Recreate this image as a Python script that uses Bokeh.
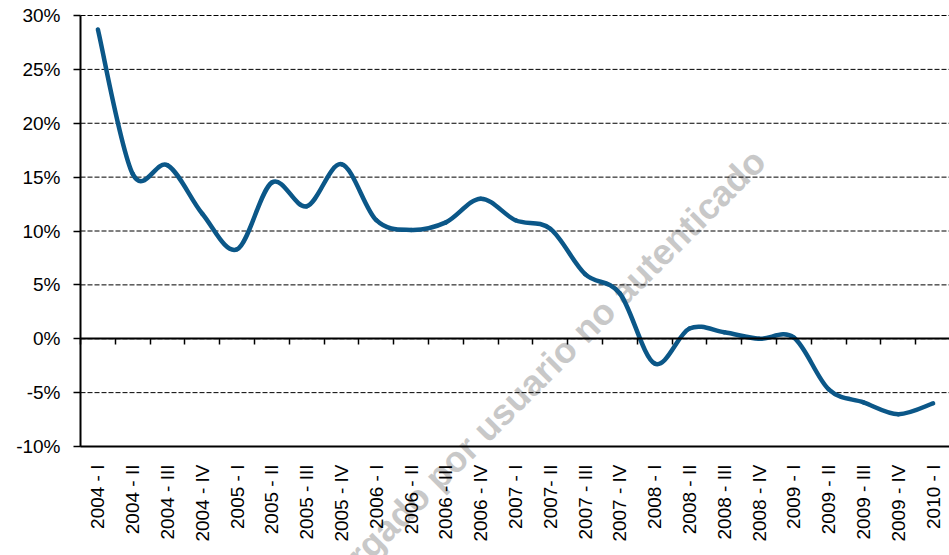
import math
from bokeh.plotting import figure
from bokeh.models import (Range1d, LinearAxis, FixedTicker, PrintfTickFormatter,
                          CustomJSTickFormatter, Label, ColumnDataSource)
from bokeh.embed import file_html
from bokeh.resources import INLINE

# ---- data ----
quarters = ["2004 - I", "2004 - II", "2004 - III", "2004 - IV",
            "2005 - I", "2005 - II", "2005 - III", "2005 - IV",
            "2006 - I", "2006 - II", "2006 - III", "2006 - IV",
            "2007 - I", "2007- II", "2007 - III", "2007 - IV",
            "2008 - I", "2008 - II", "2008 - III", "2008 - IV",
            "2009 - I", "2009 - II", "2009 - III", "2009 - IV",
            "2010 - I"]
growth_pct = [28.7, 15.3, 16.1, 11.6,
              8.3, 14.5, 12.3, 16.2,
              11.0, 10.1, 10.8, 13.0,
              11.0, 10.2, 6.0, 4.2,
              -2.3, 0.95, 0.6, 0.0,
              0.1, -4.7, -5.9, -7.0,
              -6.0]
y_ticks = [-10, -5, 0, 5, 10, 15, 20, 25, 30]
watermark = "Descargado por usuario no autenticado"

n = len(quarters)
xs = [i + 0.5 for i in range(n)]
y_min, y_max = y_ticks[0], y_ticks[-1]

# ---- layout (pixels) ----
W, H = 949, 555
LEFT, TOP = 80, 15          # plot-area corner
CAT_PX = 34.8               # pixels per category
PCT_PX = 10.775             # pixels per percentage point

x_range = Range1d(-LEFT / CAT_PX, (W - LEFT) / CAT_PX)
y_range = Range1d(y_max - (H - TOP) / PCT_PX, y_max + TOP / PCT_PX)

# smoothed line (Catmull-Rom -> cubic Bezier, like a spreadsheet "smoothed line")
x0, y0, x1, y1, cx0, cy0, cx1, cy1 = [], [], [], [], [], [], [], []
for i in range(n - 1):
    ip = max(i - 1, 0)
    inn = min(i + 2, n - 1)
    x0.append(xs[i]); y0.append(growth_pct[i])
    x1.append(xs[i + 1]); y1.append(growth_pct[i + 1])
    cx0.append(xs[i] + (xs[i + 1] - xs[ip]) / 6.0)
    cy0.append(growth_pct[i] + (growth_pct[i + 1] - growth_pct[ip]) / 6.0)
    cx1.append(xs[i + 1] - (xs[inn] - xs[i]) / 6.0)
    cy1.append(growth_pct[i + 1] - (growth_pct[inn] - growth_pct[i]) / 6.0)
src = ColumnDataSource(dict(x0=x0, y0=y0, x1=x1, y1=y1,
                            cx0=cx0, cy0=cy0, cx1=cx1, cy1=cy1))

FONT = "Liberation Sans"

p = figure(width=W, height=H, output_backend="svg", toolbar_location=None,
           x_range=x_range, y_range=y_range,
           x_axis_location=None, y_axis_location=None,
           min_border_left=0, min_border_right=0, min_border_top=0,
           min_border_bottom=0)
p.outline_line_color = None
p.background_fill_color = "white"
p.border_fill_color = "white"
p.center = [r for r in p.center if r.__class__.__name__ != "Grid"]

# watermark (behind everything)
wm = Label(x=12.59, y=-5.27, text=watermark, angle=45, angle_units="deg",
           text_align="center", text_baseline="middle", text_font=FONT,
           text_font_style="bold", text_font_size="36px", text_color="#c8c8c8",
           level="underlay")
p.add_layout(wm)

# dashed horizontal gridlines across the category span
p.segment(x0=[0] * len(y_ticks), x1=[n] * len(y_ticks), y0=y_ticks, y1=y_ticks,
          line_color="black", line_width=1, line_dash="5 2")

yticker = FixedTicker(ticks=y_ticks, minor_ticks=[])
yaxis = LinearAxis(fixed_location=0, bounds=(y_min, y_max),
                   ticker=yticker, formatter=PrintfTickFormatter(format="%d%%"),
                   major_tick_in=0, major_tick_out=7, minor_tick_out=0,
                   axis_line_width=2, axis_line_color="black",
                   major_tick_line_color="black", major_tick_line_width=1.5,
                   major_label_standoff=13,
                   major_label_text_font=FONT, major_label_text_font_size="19px",
                   major_label_text_color="black")
p.add_layout(yaxis, "left")

xaxis = LinearAxis(fixed_location=y_min, bounds=(0, n),
                   ticker=FixedTicker(ticks=xs, minor_ticks=[]),
                   formatter=CustomJSTickFormatter(args=dict(labels=quarters),
                                                   code="return labels[Math.floor(tick)] || '';"),
                   major_tick_in=0, major_tick_out=0, minor_tick_out=0,
                   axis_line_width=2, axis_line_color="black",
                   major_label_orientation=math.pi / 2,
                   major_label_standoff=18,
                   major_label_text_font=FONT, major_label_text_font_size="19px",
                   major_label_text_color="black")
p.add_layout(xaxis, "below")

zero_axis = LinearAxis(fixed_location=0, bounds=(0, n),
                       ticker=FixedTicker(ticks=list(range(n + 1)), minor_ticks=[]),
                       formatter=CustomJSTickFormatter(code="return '';"),
                       major_tick_in=0, major_tick_out=6, minor_tick_out=0,
                       axis_line_width=2, axis_line_color="black",
                       major_tick_line_color="black", major_tick_line_width=1.5,
                       major_label_text_font_size="1px")
p.add_layout(zero_axis, "below")

p.bezier(x0="x0", y0="y0", x1="x1", y1="y1", cx0="cx0", cy0="cy0",
         cx1="cx1", cy1="cy1", source=src, line_color="#0b5788",
         line_width=4.5, line_cap="round")

open("out.html", "w").write(file_html(p, INLINE))
